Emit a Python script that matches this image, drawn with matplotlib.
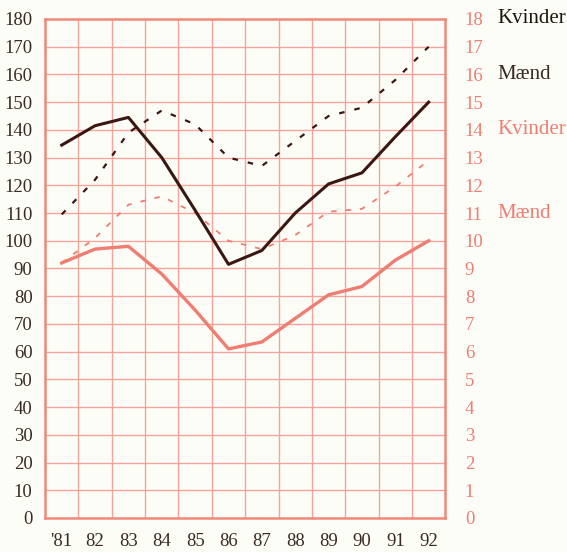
import matplotlib.pyplot as plt
import matplotlib.transforms as mtransforms
import numpy as np

plt.rcParams['font.family'] = ['Liberation Serif', 'DejaVu Serif']

# years on the x axis
years = ["'81", '82', '83', '84', '85', '86', '87', '88', '89', '90', '91', '92']

# left scale (0-180)
dark_solid = [134.5, 141.5, 144.5, 130, 111, 91.5, 96.5, 110, 120.5, 124.5, 137.5, 150]
dark_dashed = [109.5, 122, 139, 147, 142, 130, 127, 136, 145, 148, 158, 170]
# right scale (0-18), drawn on the same grid
pink_dashed = [92, 101, 113, 116, 110, 100, 97, 102, 110.5, 111.5, 119.5, 129]
pink_solid = [92, 97, 98, 88, 75, 61, 63.5, 72, 80.5, 83.5, 93, 100]

dark = '#3b1712'
pink = '#ef7d72'
grid_c = '#f5a39b'
txt_dark = '#3a2a24'

fig = plt.figure(figsize=(5.67, 5.52), dpi=100, facecolor='#fdfdf8')
ax = fig.add_axes([0.0794, 0.0616, 0.706, 0.904])
ax.set_facecolor('#fdfdf8')

x = np.arange(len(years)) + 0.5

# grid
for v in range(10, 180, 10):
    ax.axhline(v, color=grid_c, lw=1.0, zorder=1)
for v in range(1, 12):
    ax.axvline(v, color=grid_c, lw=1.0, zorder=1)

ax.plot(x, pink_solid, color=pink, lw=2.4, zorder=3)
ax.plot(x, pink_dashed, color=pink, lw=1.3, dashes=(3, 5), zorder=3)
ax.plot(x, dark_dashed, color=dark, lw=1.6, dashes=(2.5, 4.5), zorder=4)
ax.plot(x, dark_solid, color=dark, lw=2.2, zorder=4)

ax.set_xlim(0, 12)
ax.set_ylim(0, 180)
ax.set_yticks(range(0, 181, 10))
ax.set_xticks(x)
ax.set_xticklabels(years)
ax.tick_params(axis='both', length=0, labelsize=13.5, labelcolor=txt_dark)
ax.tick_params(axis='x', pad=11)
ax.tick_params(axis='y', pad=9)
for s in ax.spines.values():
    s.set_color('#f08878')
    s.set_linewidth(1.8)

ax2 = ax.twinx()
ax2.set_ylim(0, 18)
ax2.set_yticks(range(0, 19))
ax2.tick_params(axis='y', length=0, labelsize=13.5, labelcolor=pink, pad=14)
for s in ax2.spines.values():
    s.set_visible(False)

tr = mtransforms.blended_transform_factory(ax.transAxes, ax2.transData)
ax2.text(1.13, 18, 'Kvinder', color='#1e1410', fontsize=15, va='center', transform=tr)
ax2.text(1.13, 16, 'Mænd', color=txt_dark, fontsize=15, va='center', transform=tr)
ax2.text(1.13, 14, 'Kvinder', color=pink, fontsize=15, va='center', transform=tr)
ax2.text(1.13, 11, 'Mænd', color=pink, fontsize=15, va='center', transform=tr)

fig.savefig('out.png', dpi=100, facecolor=fig.get_facecolor())
